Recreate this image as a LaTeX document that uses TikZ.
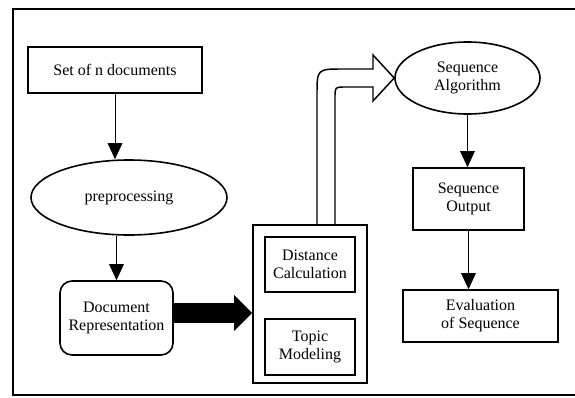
\documentclass[tikz,border=0pt]{standalone}
\usepackage{fontspec}
\setmainfont{Liberation Serif}
\usetikzlibrary{arrows.meta,shapes.geometric}

\begin{document}
\begin{tikzpicture}[x=0.75pt,y=-0.75pt,
  every node/.style={font=\fontsize{12}{13.5}\selectfont,align=center,inner sep=0pt},
  box/.style={draw,line width=1.2pt,rectangle},
  oval/.style={draw,line width=1.2pt,ellipse},
  flow/.style={line width=0.6pt,-{Triangle[length=12pt,width=11pt]}},
  bigarrow/.style={line width=15pt,-{Triangle[length=13.5pt,width=26pt]}},
  hollow/.style={line width=1.1pt,line join=miter}]
\useasboundingbox (0,0) rectangle (575,397);
\draw[line width=1.6pt] (13,9) rectangle (578,395);
% left column
\node[box,minimum width=130.5pt,minimum height=34.5pt] (docs) at (115,70) {Set of n documents};
\node[oval,minimum width=147pt,minimum height=56.25pt] (prep) at (129,197.5) {preprocessing};
\node[box,rounded corners=9pt,minimum width=84.75pt,minimum height=55.5pt] (rep) at (116.5,318) {Document\\Representation};
% middle block
\node[box,minimum width=85.5pt,minimum height=118.5pt] (cont) at (310,304) {};
\node[box,minimum width=67.5pt,minimum height=41.25pt] (dist) at (310,264.5) {Distance\\Calculation};
\node[box,minimum width=67.5pt,minimum height=42pt] (topic) at (310,347) {Topic\\Modeling};
% right column
\node[oval,minimum width=108.75pt,minimum height=54pt] (alg) at (467.5,78) {Sequence\\Algorithm};
\node[box,minimum width=83.25pt,minimum height=46.5pt] (out) at (468.5,199) {Sequence\\Output};
\node[box,minimum width=116.25pt,minimum height=39pt] (eval) at (480.5,316) {Evaluation\\of Sequence};
% connectors
\draw[flow] (docs.south) -- (docs.south |- prep.north);
\draw[flow] (prep.south -| rep.north) -- (rep.north);
\draw[bigarrow] ([yshift=3.75pt]rep.east) -- ([yshift=3.75pt]rep.east -| cont.west);
\draw[hollow] (cont.north -| 317,0) -- (317,95) .. controls (317,69) .. (343,69) -- (373,69)
  -- (373,55) -- (alg.west) -- (373,101) -- (373,87) -- (345,87) .. controls (335,87) .. (335,97)
  -- (cont.north -| 335,0);
\draw[flow] (alg.south) -- (alg.south |- out.north);
\draw[flow] (out.south) -- (out.south |- eval.north);
\end{tikzpicture}
\end{document}
